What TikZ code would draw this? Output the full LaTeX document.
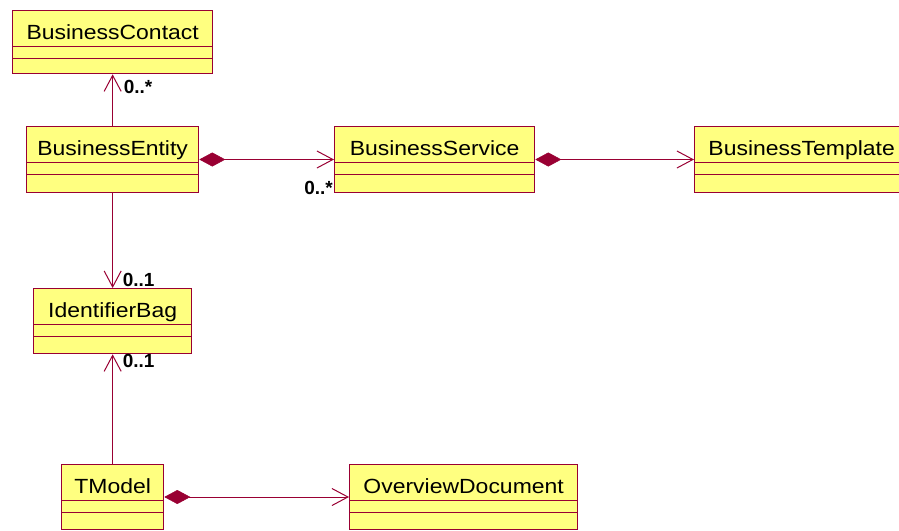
\documentclass[tikz,border=0pt]{standalone}
\usepackage{fontspec}
\setmainfont{Liberation Sans}
\newfontfamily\clsfont[FakeStretch=1.12]{Liberation Sans}
\usetikzlibrary{arrows.meta,calc}
\definecolor{umlred}{RGB}{153,0,51}
\definecolor{umlyellow}{RGB}{255,255,128}
\tikzset{
  clsbox/.style={draw=umlred, fill=umlyellow, line width=1.3pt, inner sep=0pt, anchor=north west},
  clsname/.style={font=\clsfont\fontsize{20.5}{24}\selectfont, text=black, inner sep=0pt, anchor=base},
  clsline/.style={draw=umlred, line width=1pt},
  mult/.style={font=\fontsize{19}{22}\selectfont\bfseries, text=black, inner sep=0pt},
  assoc/.style={draw=umlred, line width=1pt},
  navarrow/.style={-{Straight Barb[length=16pt,width=17pt,line width=1pt]}},
  comp/.style={{Diamond[length=26pt,width=14pt,fill=umlred,line width=0.5pt]}-{Straight Barb[length=16pt,width=17pt,line width=1pt]}}
}
\newcommand\umlclass[6]{%
  \node[clsbox, minimum width={(#4-#2)*1pt}, minimum height={(#5-#3)*1pt}] (#1) at (#2,#3) {};
  \node[clsname] (#1-t) at ([yshift=-29pt]#1.north) {#6};
  \draw[clsline] ([yshift=-36pt]#1.north west) -- ([yshift=-36pt]#1.north east);
  \draw[clsline] ([yshift=-48pt]#1.north west) -- ([yshift=-48pt]#1.north east);
}
\begin{document}
\begin{tikzpicture}[x=1pt,y=-1pt]
\useasboundingbox (0,0) rectangle (899,530);
\umlclass{bc}{12}{10}{212}{73}{BusinessContact}
\umlclass{be}{26}{126}{198}{192}{BusinessEntity}
\umlclass{bs}{334}{126}{534}{192}{BusinessService}
\umlclass{bt}{694}{126}{908}{192}{BusinessTemplate}
\umlclass{ib}{33}{288}{191}{353}{IdentifierBag}
\umlclass{tm}{61}{464}{163}{529}{TModel}
\umlclass{od}{349}{464}{577}{529}{OverviewDocument}

\draw[assoc,navarrow] (be.north) -- (bc.south);
\draw[assoc,navarrow] (be.south) -- (ib.north);
\draw[assoc,navarrow] (tm.north) -- (ib.south);
\draw[assoc,comp] ([yshift=-33.5pt]be.north east) -- ([yshift=-33.5pt]bs.north west);
\draw[assoc,comp] ([yshift=-33.5pt]bs.north east) -- ([yshift=-33.5pt]bt.north west);
\draw[assoc,comp] ([yshift=-33pt]tm.north east) -- ([yshift=-33pt]od.north west);

\node[mult, anchor=base west] (m1) at ([xshift=11pt,yshift=-19pt]bc.south) {0..*};
\node[mult, anchor=base east] (m2) at ([xshift=-1pt,yshift=-1pt]bs.south west) {0..*};
\node[mult, anchor=base west] (m3) at ([xshift=10pt,yshift=2pt]ib.north) {0..1};
\node[mult, anchor=base west] (m4) at ([xshift=10pt,yshift=-13pt]ib.south) {0..1};
\end{tikzpicture}
\end{document}
